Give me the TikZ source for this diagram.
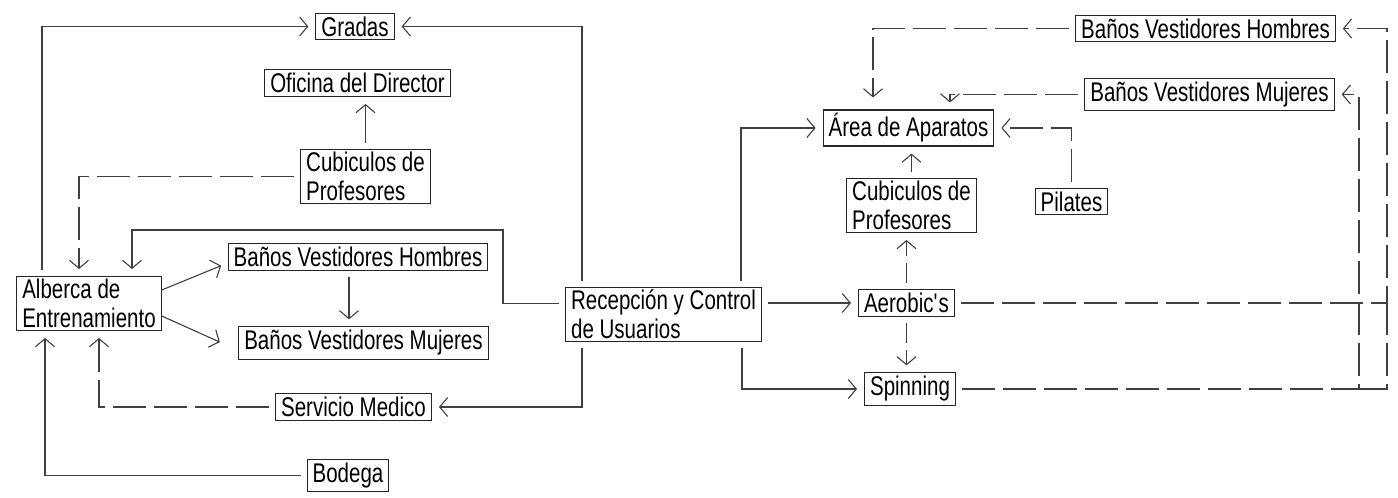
\documentclass[tikz,border=0pt]{standalone}
\usepackage{fontspec}
\setmainfont{Liberation Sans}[FakeStretch=0.76]
\usepackage{tikz}
\usetikzlibrary{arrows.meta}
\usetikzlibrary{positioning}
\tikzset{
    >={Straight Barb[length=8pt,width=19pt]},
    place/.style={draw=black!85, rectangle, inner xsep=5.5pt, inner ysep=3.5pt,
        font=\fontsize{27}{29}\selectfont},
    twoline/.style={place, align=left, inner ysep=2.5pt},
    flow/.style={draw=black!75, ->, shorten >=7pt, shorten <=6pt},
    flowdash/.style={flow, dash pattern=on 33pt off 8pt},
    flowshort/.style={flow, dash pattern=on 20pt off 7pt},
    flowplain/.style={draw=black!75, dash pattern=on 33pt off 8pt},
}
\begin{document}
\begin{tikzpicture}[line width=1.1pt, x=1pt, y=-1pt]
	\useasboundingbox (0,0) rectangle (1398,498);
	% left half
	\node[place] (gradas) at (355,26.5) {Gradas};
	\node[place] (oficina) at (357.5,83) {Oficina del Director};
	\node[twoline] (cubL) at (365.5,176.5) {Cubiculos de\\Profesores};
	\node[twoline] (alberca) at (89,303.5) {Alberca de\\Entrenamiento};
	\node[place] (hombresL) at (358,257) {Baños Vestidores Hombres};
	\node[place] (mujeresL) at (363.5,343) {Baños Vestidores Mujeres};
	\node[twoline] (recepcion) at (663.5,314.5) {Recepción y Control\\de Usuarios};
	\node[place] (medico) at (353.5,407) {Servicio Medico};
	\node[place] (bodega) at (348,475.5) {Bodega};
	% right half
	\node[place] (hombresR) at (1205.5,28.5) {Baños Vestidores Hombres};
	\node[place] (mujeresR) at (1209.5,94.5) {Baños Vestidores Mujeres};
	\node[place] (aparatos) at (908.5,128) {Área de Aparatos};
	\node[twoline] (cubR) at (911.5,205.5) {Cubiculos de\\Profesores};
	\node[place] (pilates) at (1071.5,201.5) {Pilates};
	\node[place] (aerobics) at (906.5,303) {Aerobic\textquotesingle s};
	\node[place] (spinning) at (910,389) {Spinning};
	\coordinate (loopL) at (503,230);
	\coordinate (midR) at (1359,0);
	\coordinate (edgeR) at (1387,0);

	\draw[flow] ([xshift=-47pt]alberca.north) |- (gradas.west);
	\draw[flow] ([xshift=-81.5pt]recepcion.north) |- (gradas.east);
	\draw[flow] (cubL.north) -- (cubL.north |- oficina.south);
	\draw[flowdash] (cubL.west) -| ([xshift=-10pt]alberca.north);
	\draw[flow] ([yshift=11pt]recepcion.west) -| (loopL) -| ([xshift=43pt]alberca.north);
	\draw[flow, shorten <=0pt] ([yshift=13.5pt]alberca.east) -- ([yshift=-6pt]hombresL.west);
	\draw[flow, shorten <=0pt] ([yshift=-12.5pt]alberca.east) -- ([xshift=-12pt,yshift=-2pt]mujeresL.west);
	\draw[flow] ([xshift=-9pt]hombresL.south) -- ([xshift=-9pt]hombresL.south |- mujeresL.north);
	\draw[flow] ([xshift=-81.5pt]recepcion.south) |- (medico.east);
	\draw[flowdash] (medico.west) -| ([xshift=10pt]alberca.south);
	\draw[flow] (bodega.west) -| ([xshift=-44pt]alberca.south);

	\draw[flow] (recepcion.east |- aerobics.west) -- (aerobics.west);
	\draw[flow] ([xshift=77.5pt]recepcion.north) |- (aparatos.west);
	\draw[flow] ([xshift=78.5pt]recepcion.south) |- (spinning.west);
	\draw[flow] (cubR.north) -- (cubR.north |- aparatos.south);
	\draw[flowshort] (aerobics.north) -- (aerobics.north |- cubR.south);
	\draw[flowshort] (aerobics.south) -- (aerobics.south |- spinning.north);
	\draw[flowdash] (pilates.north) |- (aparatos.east);
	\draw[flowdash, shorten >=12pt] (hombresR.west) -| ([xshift=-35.5pt]aparatos.north);
	\draw[flowdash] (mujeresR.west) -| ([xshift=41.5pt]aparatos.north);
	\draw[flowdash] (aerobics.east) -| (edgeR |- hombresR.east) -- (hombresR.east);
	\draw[flowdash] (spinning.east) -| (midR |- mujeresR.east) -- (mujeresR.east);
	\draw[flowplain] (spinning.east -| midR) -| (edgeR |- aerobics.east);
\end{tikzpicture}
\end{document}
